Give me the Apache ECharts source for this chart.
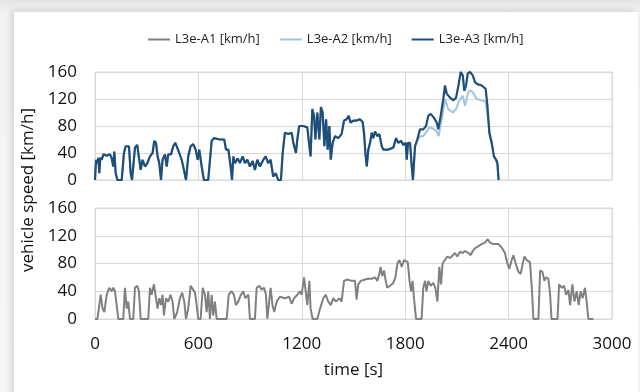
<!DOCTYPE html>
<html><head><meta charset="utf-8">
<script src="https://cdn.jsdelivr.net/npm/echarts@6/dist/echarts.min.js"></script>
<style>
html,body{margin:0;padding:0;}
#wrap{position:relative;width:640px;height:392px;overflow:hidden;background:linear-gradient(180deg,#e4e4e4 0px,#f2f2f2 12px,#f6f6f6 100%);}
#card{position:absolute;left:14px;top:12px;width:624px;height:400px;background:#fff;box-shadow:-3px -2px 6px rgba(0,0,0,0.12);}
#chart{position:absolute;left:0;top:0;width:640px;height:392px;}
</style></head>
<body><div id="wrap"><div id="card"></div><div id="chart"></div></div>
<script>
// L3e-A3 (dark blue), top panel
const a3Time = [0,6,13,19,25,31,39,49,68,87,97,106,112,120,130,155,168,178,197,207,215,232,245,255,265,276,290,304,319,334,344,354,363,373,383,392,406,416,425,441,454,466,477,489,503,516,528,541,555,570,584,596,605,619,632,657,677,690,725,750,760,774,787,795,803,812,828,841,857,870,884,899,915,928,942,957,977,990,1005,1019,1034,1049,1063,1079,1089,1102,1122,1141,1151,1166,1174,1185,1209,1232,1244,1251,1261,1271,1279,1290,1302,1311,1321,1331,1341,1350,1360,1368,1379,1393,1412,1431,1445,1460,1472,1483,1499,1518,1537,1553,1561,1569,1577,1586,1596,1606,1615,1625,1638,1650,1664,1673,1702,1731,1747,1760,1776,1789,1803,1809,1816,1828,1838,1845,1857,1870,1886,1905,1921,1934,1948,1967,1983,1992,2006,2021,2031,2041,2060,2080,2095,2109,2122,2134,2143,2153,2163,2176,2192,2205,2219,2244,2267,2277,2288,2302,2315,2327,2335,2342];
const a3Speed = [0,30,25,33,10,33,30,38,36,38,32,20,42,10,0,0,40,50,50,10,0,48,52,50,15,30,20,25,35,40,58,55,35,25,0,30,38,20,38,38,50,55,48,40,30,15,0,35,50,53,45,30,45,20,0,0,58,62,60,60,45,45,20,0,35,25,32,25,35,25,30,20,28,15,30,20,30,35,25,30,5,10,0,0,40,70,68,70,55,40,60,80,80,78,50,35,105,95,60,100,60,108,100,50,90,45,80,30,55,65,62,68,88,90,95,85,88,88,90,86,70,40,20,45,55,70,62,72,65,68,50,45,45,48,62,55,58,52,55,30,55,55,20,0,50,60,75,75,80,95,98,92,85,75,95,120,140,128,122,118,122,140,160,155,132,140,158,160,155,145,142,140,135,110,70,55,35,30,25,0];
// L3e-A2 (light blue), top panel: same as A3 until ~1860 s
const a2Time = [0,6,13,19,25,31,39,49,68,87,97,106,112,120,130,155,168,178,197,207,215,232,245,255,265,276,290,304,319,334,344,354,363,373,383,392,406,416,425,441,454,466,477,489,503,516,528,541,555,570,584,596,605,619,632,657,677,690,725,750,760,774,787,795,803,812,828,841,857,870,884,899,915,928,942,957,977,990,1005,1019,1034,1049,1063,1079,1089,1102,1122,1141,1151,1166,1174,1185,1209,1232,1244,1251,1261,1271,1279,1290,1302,1311,1321,1331,1341,1350,1360,1368,1379,1393,1412,1431,1445,1460,1472,1483,1499,1518,1537,1553,1561,1569,1577,1586,1596,1606,1615,1625,1638,1650,1664,1673,1702,1731,1747,1760,1776,1789,1803,1809,1816,1828,1838,1845,1857,1870,1886,1905,1924,1940,1963,1983,1994,2012,2031,2050,2076,2095,2114,2134,2147,2163,2176,2192,2215,2244,2267,2282,2296,2302,2315,2327,2335,2342];
const a2Speed = [0,30,25,33,10,33,30,38,36,38,32,20,42,10,0,0,40,50,50,10,0,48,52,50,15,30,20,25,35,40,58,55,35,25,0,30,38,20,38,38,50,55,48,40,30,15,0,35,50,53,45,30,45,20,0,0,58,62,60,60,45,45,20,0,35,25,32,25,35,25,30,20,28,15,30,20,30,35,25,30,5,10,0,0,40,70,68,70,55,40,60,80,80,78,50,35,105,95,60,100,60,108,100,50,90,45,80,30,55,65,62,68,88,90,95,85,88,88,90,86,70,40,20,45,55,70,62,72,65,68,50,45,45,48,62,55,58,52,55,30,55,55,20,0,50,58,65,65,72,78,76,72,65,90,120,105,100,105,118,125,110,128,133,130,120,118,116,90,60,55,35,30,25,0];
// L3e-A1 (grey), bottom panel
const a1Time = [0,14,25,33,44,54,68,83,97,106,116,126,135,164,174,184,193,203,222,232,245,255,265,309,319,329,342,354,363,373,383,392,400,412,425,439,450,460,477,493,506,518,528,541,555,570,580,590,599,613,625,638,648,657,667,677,686,696,706,764,776,793,806,818,831,847,860,872,890,899,928,938,954,967,981,992,1000,1008,1019,1030,1040,1054,1073,1102,1127,1141,1156,1174,1189,1199,1213,1224,1232,1244,1251,1263,1290,1306,1325,1338,1354,1368,1383,1399,1418,1431,1445,1464,1489,1509,1518,1528,1542,1567,1586,1606,1625,1638,1650,1657,1667,1677,1687,1696,1712,1731,1743,1755,1766,1780,1793,1815,1825,1834,1843,1851,1863,1895,1905,1915,1924,1934,1948,1963,1975,1987,1998,2008,2017,2031,2044,2060,2076,2089,2102,2118,2134,2147,2167,2180,2192,2205,2225,2244,2263,2279,2292,2312,2341,2360,2379,2393,2404,2418,2428,2441,2457,2470,2482,2492,2505,2524,2536,2544,2573,2583,2596,2608,2617,2631,2641,2649,2684,2693,2709,2722,2734,2747,2757,2770,2782,2795,2807,2818,2830,2843,2853,2863,2892];
const a1Speed = [0,0,20,35,15,10,35,45,40,45,40,20,0,0,45,15,25,0,0,45,48,40,0,0,45,35,50,30,15,30,20,35,5,30,25,35,25,0,10,30,38,25,0,15,48,42,38,20,0,0,45,35,10,40,0,35,5,25,0,0,35,40,35,20,25,35,40,30,35,0,0,45,48,42,45,35,0,0,45,20,10,25,32,30,32,22,30,35,40,35,60,58,20,55,15,0,0,15,30,35,25,20,30,25,30,25,55,57,55,55,28,50,55,57,58,58,60,55,65,75,62,70,55,45,48,52,60,80,85,75,85,82,55,40,55,30,0,0,45,55,40,55,48,52,45,25,75,50,80,85,90,88,92,95,90,97,95,98,95,92,98,102,105,108,110,115,110,108,108,103,95,80,72,85,92,80,68,65,80,90,85,82,40,0,0,70,68,55,60,58,35,0,0,50,45,48,35,42,20,50,25,40,20,40,30,45,25,0,0];
const timeTicks = {min: 0, max: 3000, interval: 600};
const speedTicks = {min: 0, max: 160, interval: 40};

const pairs = (t, v) => t.map((x, i) => [x, v[i]]);
const FONT = 'Open Sans';
const grid = '#d9d9d9';
const chart = echarts.init(document.getElementById('chart'), null, {renderer: 'canvas'});
const xAxisBase = (gi, showLabels) => ({
  type: 'value', gridIndex: gi, min: timeTicks.min, max: timeTicks.max, interval: timeTicks.interval,
  axisLine: {show: false}, axisTick: {show: false},
  splitLine: {show: true, lineStyle: {color: grid, width: 1}},
  axisLabel: {show: showLabels, color: '#111', fontFamily: FONT, fontSize: 17, margin: 17,
    formatter: (v) => String(v)}
});
const yAxisBase = (gi) => ({
  type: 'value', gridIndex: gi, min: speedTicks.min, max: speedTicks.max, interval: speedTicks.interval,
  axisLine: {show: false}, axisTick: {show: false},
  splitLine: {show: true, lineStyle: {color: grid, width: 1}},
  axisLabel: {color: '#111', fontFamily: FONT, fontSize: 17, margin: 18, formatter: (v) => String(v)}
});
chart.setOption({
  animation: false,
  textStyle: {fontFamily: FONT},
  legend: {
    left: 143, top: 28, itemWidth: 22, itemHeight: 2, itemGap: 20, icon: 'rect',
    textStyle: {fontFamily: FONT, fontSize: 13, color: '#222'},
    data: ['L3e-A1 [km/h]', 'L3e-A2 [km/h]', 'L3e-A3 [km/h]']
  },
  grid: [
    {left: 95, right: 28, top: 72, height: 108, show: true, borderColor: grid, borderWidth: 1},
    {left: 95, right: 28, top: 208, height: 111, show: true, borderColor: grid, borderWidth: 1}
  ],
  xAxis: [xAxisBase(0, false), Object.assign(xAxisBase(1, true), {
    name: 'time [s]', nameLocation: 'middle', nameGap: 43,
    nameTextStyle: {fontFamily: FONT, fontSize: 17, color: '#111'}
  })],
  yAxis: [yAxisBase(0), yAxisBase(1)],
  graphic: [{
    type: 'text', left: 20, top: 108, rotation: Math.PI / 2,
    style: {text: 'vehicle speed [km/h]', font: '17px "Open Sans"', fill: '#111'}
  }],
  series: [
    {name: 'L3e-A1 [km/h]', type: 'line', xAxisIndex: 1, yAxisIndex: 1, data: pairs(a1Time, a1Speed),
     showSymbol: false, color: '#808080', lineStyle: {width: 2, color: '#808080'}},
    {name: 'L3e-A2 [km/h]', type: 'line', xAxisIndex: 0, yAxisIndex: 0, data: pairs(a2Time, a2Speed),
     showSymbol: false, color: '#9dc3e6', lineStyle: {width: 2, color: '#9dc3e6'}},
    {name: 'L3e-A3 [km/h]', type: 'line', xAxisIndex: 0, yAxisIndex: 0, data: pairs(a3Time, a3Speed),
     showSymbol: false, color: '#1f4e79', lineStyle: {width: 2.2, color: '#1f4e79'}}
  ]
});
</script></body></html>
